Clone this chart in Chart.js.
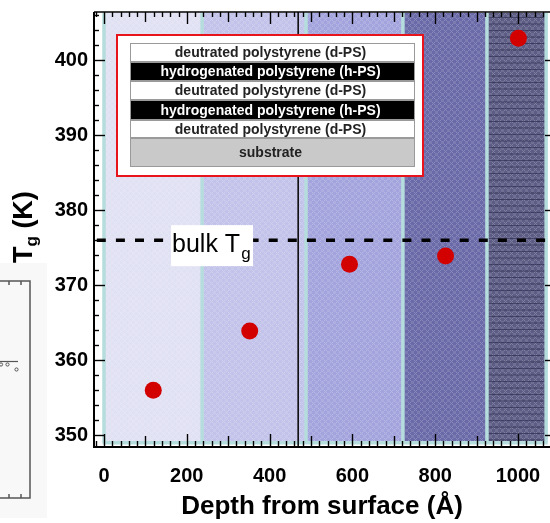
<!DOCTYPE html>
<html><head><meta charset="utf-8">
<script src="https://cdn.jsdelivr.net/npm/chart.js@4/dist/chart.umd.min.js"></script>
<style>html,body{margin:0;padding:0;background:#fff;}canvas{display:block;}</style>
</head><body>
<canvas id="c" width="550" height="523"></canvas>
<script>
// ---- data ----
const depthValues = [119, 352, 593, 825, 1001];          // Å
const tgValues    = [356.0, 363.9, 372.8, 373.9, 402.9]; // K
const bulkTg = 376;
const interfaceDepth = 469;
const xTickLabels = [0, 200, 400, 600, 800, 1000];
const yTickLabels = [350, 360, 370, 380, 390, 400];
const bandEdges = [0, 237, 488, 722, 925, 1068];
const layerNames = [
  'deutrated polystyrene (d-PS)',
  'hydrogenated polystyrene (h-PS)',
  'deutrated polystyrene (d-PS)',
  'hydrogenated polystyrene (h-PS)',
  'deutrated polystyrene (d-PS)',
  'substrate'
];
// ---- axis ranges ----
const xMin = -24.15, xMax = 1077.3;
const yMin = 348.57, yMax = 406.4;
const bandBottom = 349.0;

// ---- styles ----
const FONT = '"Liberation Sans", Arial, Helvetica, sans-serif';
const bandColors = ['#e1e1f4', '#c2c2ea', '#a3a3dd', '#6a6aa9', '#5c5c84'];
const bandBorder = '#b6dddd';

function makePattern(ctx, color) {
  const c = document.createElement('canvas');
  c.width = 6; c.height = 6;
  const g = c.getContext('2d');
  g.fillStyle = color; g.fillRect(0, 0, 6, 6);
  g.fillStyle = 'rgba(255,255,255,0.22)';
  g.fillRect(0, 0, 1, 1); g.fillRect(2, 0, 1, 1); g.fillRect(1, 1, 1, 1);
  g.fillRect(0, 2, 1, 1); g.fillRect(2, 2, 1, 1);
  g.fillStyle = 'rgba(255,255,255,0.12)';
  g.fillRect(3, 3, 3, 3);
  return ctx.createPattern(c, 'repeat');
}

const bandPlugin = {
  id: 'bands',
  beforeDatasetsDraw(chart) {
    const {ctx, scales: {x, y}} = chart;
    const top = chart.chartArea.top + 1;
    const bot = y.getPixelForValue(bandBottom);
    ctx.save();
    for (let i = 0; i < bandColors.length; i++) {
      const x0 = x.getPixelForValue(bandEdges[i]);
      const x1 = x.getPixelForValue(bandEdges[i + 1]);
      ctx.fillStyle = makePattern(ctx, bandColors[i]);
      ctx.fillRect(x0, top, x1 - x0, bot - top);
      if (i === bandColors.length - 1) {
        ctx.strokeStyle = 'rgba(35,35,70,0.55)';
        ctx.lineWidth = 1;
        for (let yy = top + 4.5; yy < bot; yy += 6.5) {
          ctx.beginPath(); ctx.moveTo(x0, yy); ctx.lineTo(x1, yy); ctx.stroke();
        }
      }
    }
    ctx.strokeStyle = bandBorder;
    ctx.lineWidth = 3.5;
    bandEdges.forEach(e => {
      const px = x.getPixelForValue(e);
      ctx.beginPath(); ctx.moveTo(px, top); ctx.lineTo(px, bot); ctx.stroke();
    });
    ctx.beginPath();
    ctx.moveTo(x.getPixelForValue(bandEdges[0]) - 1.5, bot);
    ctx.lineTo(x.getPixelForValue(bandEdges[bandEdges.length - 1]) + 1.5, bot);
    ctx.stroke();
    ctx.restore();
  }
};

const overlayPlugin = {
  id: 'overlay',
  afterDatasetsDraw(chart) {
    const {ctx, scales: {x, y}} = chart;
    ctx.save();
    // inset schematic
    ctx.fillStyle = '#fff';
    ctx.fillRect(117, 35, 306, 141);
    ctx.strokeStyle = '#e8141c';
    ctx.lineWidth = 2;
    ctx.strokeRect(117, 35, 306, 141);
    const sx0 = 130, sx1 = 415;
    const rows = [43, 62, 81, 100, 120, 138, 167];
    for (let i = 0; i < layerNames.length; i++) {
      const r0 = rows[i], r1 = rows[i + 1];
      const isH = layerNames[i].indexOf('hydrogenated') === 0;
      const isSub = i === layerNames.length - 1;
      ctx.fillStyle = isSub ? '#c9c9c9' : (isH ? '#000' : '#fff');
      ctx.fillRect(sx0, r0, sx1 - sx0, r1 - r0);
      ctx.strokeStyle = '#9a9a9a';
      ctx.lineWidth = 1;
      ctx.strokeRect(sx0 + 0.5, r0 + 0.5, sx1 - sx0 - 1, r1 - r0 - 1);
      ctx.fillStyle = isH ? '#fff' : '#222';
      ctx.font = 'bold 14px ' + FONT;
      ctx.textAlign = 'center';
      ctx.textBaseline = 'middle';
      ctx.fillText(layerNames[i], (sx0 + sx1) / 2 - 2, (r0 + r1) / 2 + 1);
    }
    // bulk Tg label
    const yb = y.getPixelForValue(bulkTg);
    const xl = x.getPixelForValue(162);
    ctx.fillStyle = '#fff';
    ctx.fillRect(xl, yb - 15, 82, 41);
    ctx.fillStyle = '#000';
    ctx.textAlign = 'left';
    ctx.textBaseline = 'alphabetic';
    ctx.font = '25px ' + FONT;
    ctx.fillText('bulk T', xl + 1, yb + 12);
    const w = ctx.measureText('bulk T').width;
    ctx.font = '17px ' + FONT;
    ctx.fillText('g', xl + 2 + w, yb + 19);
    ctx.restore();
  }
};

const framePlugin = {
  id: 'frame',
  afterDraw(chart) {
    const {ctx, chartArea: {left: L, right: R, top: T, bottom: B}, scales: {x, y}} = chart;
    ctx.save();
    ctx.strokeStyle = '#000';
    ctx.lineWidth = 2;
    ctx.beginPath();
    ctx.moveTo(L, T); ctx.lineTo(L, B + 1); ctx.lineTo(R, B + 1);
    ctx.stroke();
    ctx.lineWidth = 1.6;
    ctx.beginPath(); ctx.moveTo(L, T); ctx.lineTo(R, T); ctx.stroke();
    ctx.lineWidth = 1.4;
    const RA = R + 6;
    for (let v = 350; v <= 406; v += 2) {
      const py = Math.round(y.getPixelForValue(v)) + 0.5;
      const len = v % 10 === 0 ? 11 : 5;
      ctx.beginPath(); ctx.moveTo(L, py); ctx.lineTo(L + len, py); ctx.stroke();
      ctx.beginPath(); ctx.moveTo(RA, py); ctx.lineTo(RA - len, py); ctx.stroke();
    }
    for (let v = -20; v <= 1060; v += 20) {
      const px = Math.round(x.getPixelForValue(v)) + 0.5;
      if (px <= L + 1) continue;
      const len = v % 200 === 0 ? 12 : (v % 100 === 0 ? 10 : 5);
      ctx.beginPath(); ctx.moveTo(px, B); ctx.lineTo(px, B - len); ctx.stroke();
      ctx.beginPath(); ctx.moveTo(px, T); ctx.lineTo(px, T + len); ctx.stroke();
    }
    // y-axis title with subscript
    ctx.fillStyle = '#000';
    ctx.translate(32, 263);
    ctx.rotate(-Math.PI / 2);
    ctx.textAlign = 'left';
    ctx.textBaseline = 'alphabetic';
    ctx.font = 'bold 27px ' + FONT;
    ctx.fillText('T', 0, 0);
    let w = ctx.measureText('T').width;
    ctx.font = 'bold 17px ' + FONT;
    ctx.fillText('g', w, 5);
    w += ctx.measureText('g').width;
    ctx.font = 'bold 27px ' + FONT;
    ctx.fillText(' (K)', w, 0);
    ctx.setTransform(1, 0, 0, 1, 0, 0);
    // fragment of neighbouring panel
    ctx.fillStyle = '#f8f8f8';
    ctx.fillRect(0, 263, 47, 255);
    ctx.strokeStyle = '#555';
    ctx.lineWidth = 1.5;
    ctx.strokeRect(-5, 281, 35, 217);
    ctx.beginPath();
    ctx.moveTo(9, 281); ctx.lineTo(9, 285); ctx.moveTo(21, 281); ctx.lineTo(21, 285);
    ctx.moveTo(9, 498); ctx.lineTo(9, 494); ctx.moveTo(21, 498); ctx.lineTo(21, 494);
    ctx.stroke();
    ctx.lineWidth = 1.2;
    ctx.beginPath(); ctx.moveTo(0, 361.5); ctx.lineTo(18, 361.5); ctx.stroke();
    ctx.lineWidth = 1;
    [[1, 364.5], [7.5, 364.5], [16.5, 369.5]].forEach(p => {
      ctx.beginPath(); ctx.arc(p[0], p[1], 1.6, 0, Math.PI * 2); ctx.stroke();
    });
    ctx.restore();
  }
};

function zeroPad(s) { s.paddingLeft = 0; s.paddingRight = 0; s.paddingTop = 0; s.paddingBottom = 0; }

new Chart(document.getElementById('c'), {
  type: 'scatter',
  data: {
    datasets: [
      {
        type: 'scatter',
        data: depthValues.map((d, i) => ({x: d, y: tgValues[i]})),
        backgroundColor: '#d30000',
        borderColor: '#d30000',
        borderWidth: 0,
        pointRadius: 8.5,
        pointHoverRadius: 8.5,
        order: 0
      },
      {
        type: 'line',
        data: [{x: xMin, y: bulkTg}, {x: xMax, y: bulkTg}],
        borderColor: '#000',
        borderWidth: 3.5,
        borderDash: [9, 10.1],
        borderDashOffset: -2.8,
        pointRadius: 0,
        showLine: true,
        fill: false,
        order: 1
      },
      {
        type: 'line',
        data: [{x: interfaceDepth, y: yMin}, {x: interfaceDepth, y: yMax}],
        borderColor: '#000',
        borderWidth: 1.5,
        pointRadius: 0,
        showLine: true,
        fill: false,
        order: 2
      }
    ]
  },
  options: {
    responsive: false,
    animation: false,
    devicePixelRatio: 1,
    events: [],
    layout: {autoPadding: false, padding: {top: 12, left: 0, right: 0, bottom: 0}},
    plugins: {legend: {display: false}, tooltip: {enabled: false}},
    scales: {
      x: {
        type: 'linear', min: xMin, max: xMax,
        afterFit(s) { s.height = 77; zeroPad(s); },
        afterBuildTicks(s) { s.ticks = xTickLabels.map(v => ({value: v})); },
        grid: {display: false}, border: {display: false},
        ticks: {font: {family: FONT, size: 20, weight: 'bold'}, color: '#000', padding: 10,
                maxRotation: 0, autoSkip: false, callback: v => String(v)},
        title: {display: true, text: 'Depth from surface (Å)', color: '#000',
                font: {family: FONT, size: 26, weight: 'bold'}, padding: {top: 0, bottom: 1}}
      },
      y: {
        type: 'linear', min: yMin, max: yMax,
        afterFit(s) { s.width = 94; zeroPad(s); },
        afterBuildTicks(s) { s.ticks = yTickLabels.map(v => ({value: v})); },
        grid: {display: false, drawTicks: false, tickLength: 0}, border: {display: false},
        ticks: {font: {family: FONT, size: 20, weight: 'bold'}, color: '#000', padding: 6,
                autoSkip: false, callback: v => String(v)}
      }
    }
  },
  plugins: [bandPlugin, overlayPlugin, framePlugin]
});
</script>
</body></html>
